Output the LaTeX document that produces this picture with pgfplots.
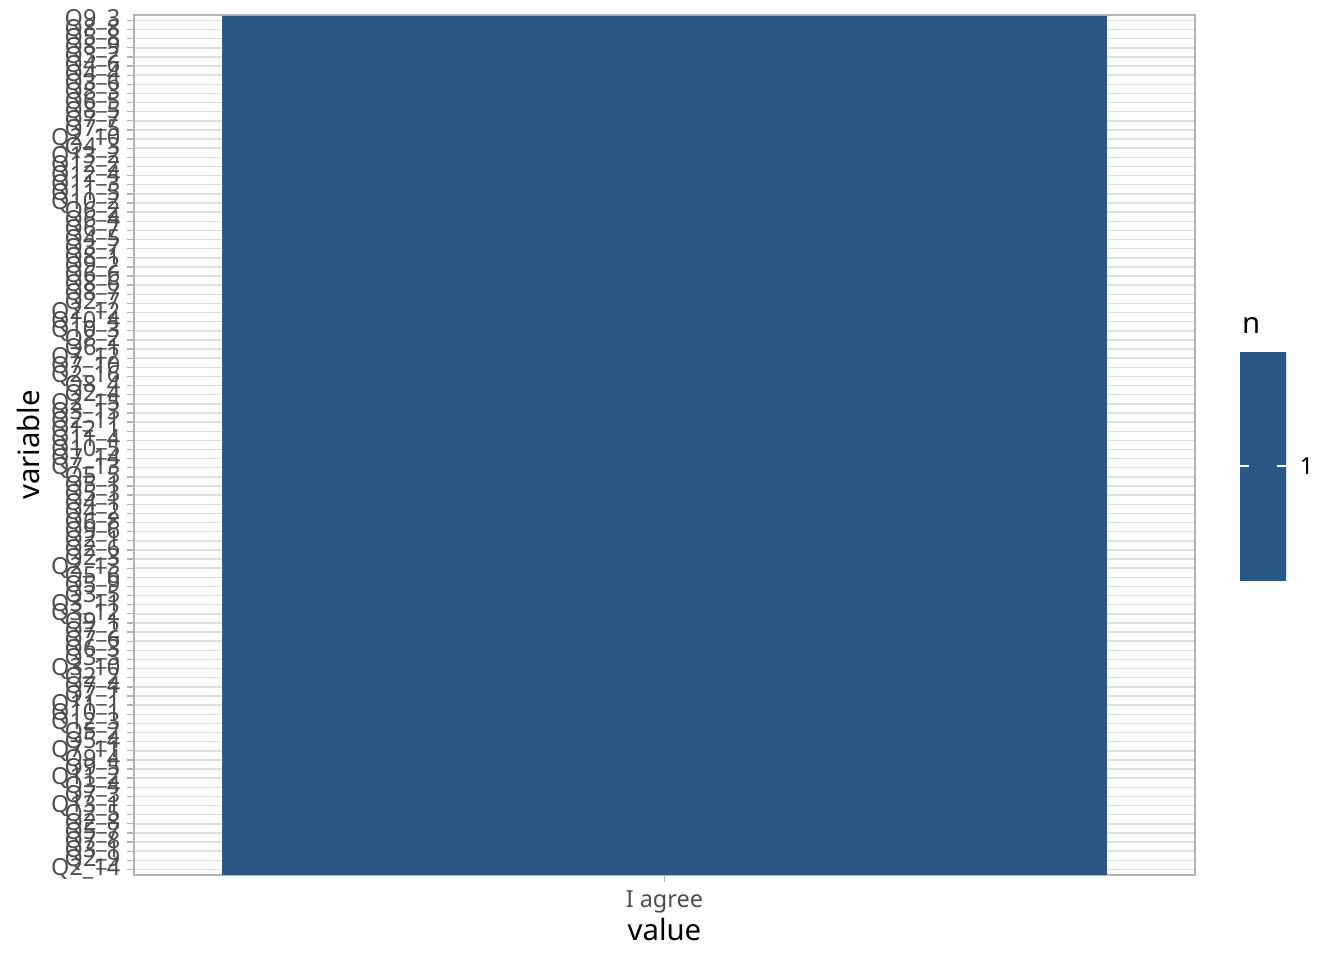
\documentclass[border=0pt]{standalone}
\usepackage{fontspec}
\setmainfont{Noto Sans}
\usepackage{pgfplots}
\pgfplotsset{compat=1.18}
\definecolor{tile}{RGB}{41,88,135}
\definecolor{gridc}{RGB}{222,222,222}
\definecolor{bord}{RGB}{179,179,179}
\definecolor{ticklab}{RGB}{77,77,77}
\pgfplotsset{colormap={tilemap}{color(0cm)=(tile) color(1cm)=(tile)}}
\begin{document}
\begin{tikzpicture}
\path[use as bounding box] (0,0) rectangle (504pt,360pt);
\begin{axis}[
 at={(50.25pt,31.9pt)}, anchor=south west,
 width=397.85pt, height=322.5pt, scale only axis,
 xmin=-0.1, xmax=1.1, ymin=0.4, ymax=94.6,
 xtick={0.5}, xticklabels={I agree},
 ytick={1,...,94},
 yticklabels={Q2\_14,Q2\_9,Q3\_1,Q7\_8,Q5\_7,Q2\_8,Q2\_5,Q13\_1,Q7\_3,Q3\_4,Q11\_2,Q9\_5,Q9\_4,Q7\_11,Q5\_4,Q5\_2,Q12\_3,Q10\_1,Q11\_1,Q7\_1,Q7\_4,Q2\_2,Q3\_10,Q3\_3,Q6\_3,Q7\_6,Q7\_2,Q9\_1,Q3\_12,Q3\_11,Q3\_5,Q5\_9,Q5\_6,Q2\_13,Q2\_3,Q2\_6,Q2\_1,Q9\_6,Q6\_8,Q4\_2,Q4\_1,Q5\_3,Q5\_1,Q5\_5,Q7\_13,Q7\_14,Q10\_5,Q11\_4,Q12\_1,Q2\_11,Q3\_13,Q2\_15,Q2\_4,Q8\_4,Q2\_16,Q7\_10,Q7\_12,Q6\_1,Q8\_2,Q10\_3,Q10\_4,Q2\_12,Q2\_7,Q8\_7,Q8\_6,Q6\_6,Q9\_2,Q8\_1,Q3\_7,Q4\_5,Q6\_7,Q6\_4,Q6\_2,Q10\_2,Q11\_5,Q11\_3,Q12\_4,Q12\_2,Q13\_2,Q4\_3,Q2\_10,Q7\_5,Q7\_7,Q8\_5,Q6\_5,Q8\_3,Q3\_6,Q4\_4,Q4\_6,Q3\_2,Q8\_9,Q5\_8,Q8\_8,Q9\_3},
 xtick pos=bottom, ytick pos=left,
 tick align=outside, major tick length=2.75pt,
 tick style={bord, line width=0.5pt},
 axis line style={bord, line width=0.5pt},
 xmajorgrids, ymajorgrids, grid style={gridc, line width=0.55pt},
 ticklabel style={font=\fontsize{8.8}{9}\selectfont, text=ticklab},
 yticklabel style={inner sep=0pt, xshift=-2.2pt},
 xticklabel style={inner sep=0pt, yshift=-2.8pt},
 label style={font=\fontsize{11}{13}\selectfont},
 xlabel={value}, ylabel={variable},
 xlabel style={at={(axis description cs:0.5,-0.064)}, anchor=center, inner sep=0pt},
 ylabel style={at={(axis description cs:-0.0999,0.5)}, anchor=center, inner sep=0pt},
 colormap name=tilemap,
 point meta min=0.5, point meta max=1.5,
 colorbar,
 colorbar/width=17.25pt,
 colorbar shift/.style={xshift=16.9pt, yshift=-7.9pt},
 colorbar style={
   at={(parent axis.east)}, anchor=west,
   height=86.25pt, scale only axis,
   ytick={1}, ytick pos=both, yticklabel pos=right,
   tick align=inside, major tick length=3.4pt,
   tick style={white, line width=0.6pt},
   axis line style={draw=none},
   /pgf/number format/assume math mode=true,
   yticklabel style={font=\fontsize{8.8}{9}\selectfont, text=black, inner sep=0pt, xshift=5pt},
 },
]
\addplot[xbar, bar width=1, fill=tile, draw=tile, line width=0.2pt] coordinates {
(1,1) (1,2) (1,3) (1,4) (1,5) (1,6) (1,7) (1,8) (1,9) (1,10)
(1,11) (1,12) (1,13) (1,14) (1,15) (1,16) (1,17) (1,18) (1,19) (1,20)
(1,21) (1,22) (1,23) (1,24) (1,25) (1,26) (1,27) (1,28) (1,29) (1,30)
(1,31) (1,32) (1,33) (1,34) (1,35) (1,36) (1,37) (1,38) (1,39) (1,40)
(1,41) (1,42) (1,43) (1,44) (1,45) (1,46) (1,47) (1,48) (1,49) (1,50)
(1,51) (1,52) (1,53) (1,54) (1,55) (1,56) (1,57) (1,58) (1,59) (1,60)
(1,61) (1,62) (1,63) (1,64) (1,65) (1,66) (1,67) (1,68) (1,69) (1,70)
(1,71) (1,72) (1,73) (1,74) (1,75) (1,76) (1,77) (1,78) (1,79) (1,80)
(1,81) (1,82) (1,83) (1,84) (1,85) (1,86) (1,87) (1,88) (1,89) (1,90)
(1,91) (1,92) (1,93) (1,94)
};
\end{axis}
\node[anchor=base west, inner sep=0pt, font=\fontsize{11}{13}\selectfont] at (465.6pt,235pt) {n};
\end{tikzpicture}
\end{document}
